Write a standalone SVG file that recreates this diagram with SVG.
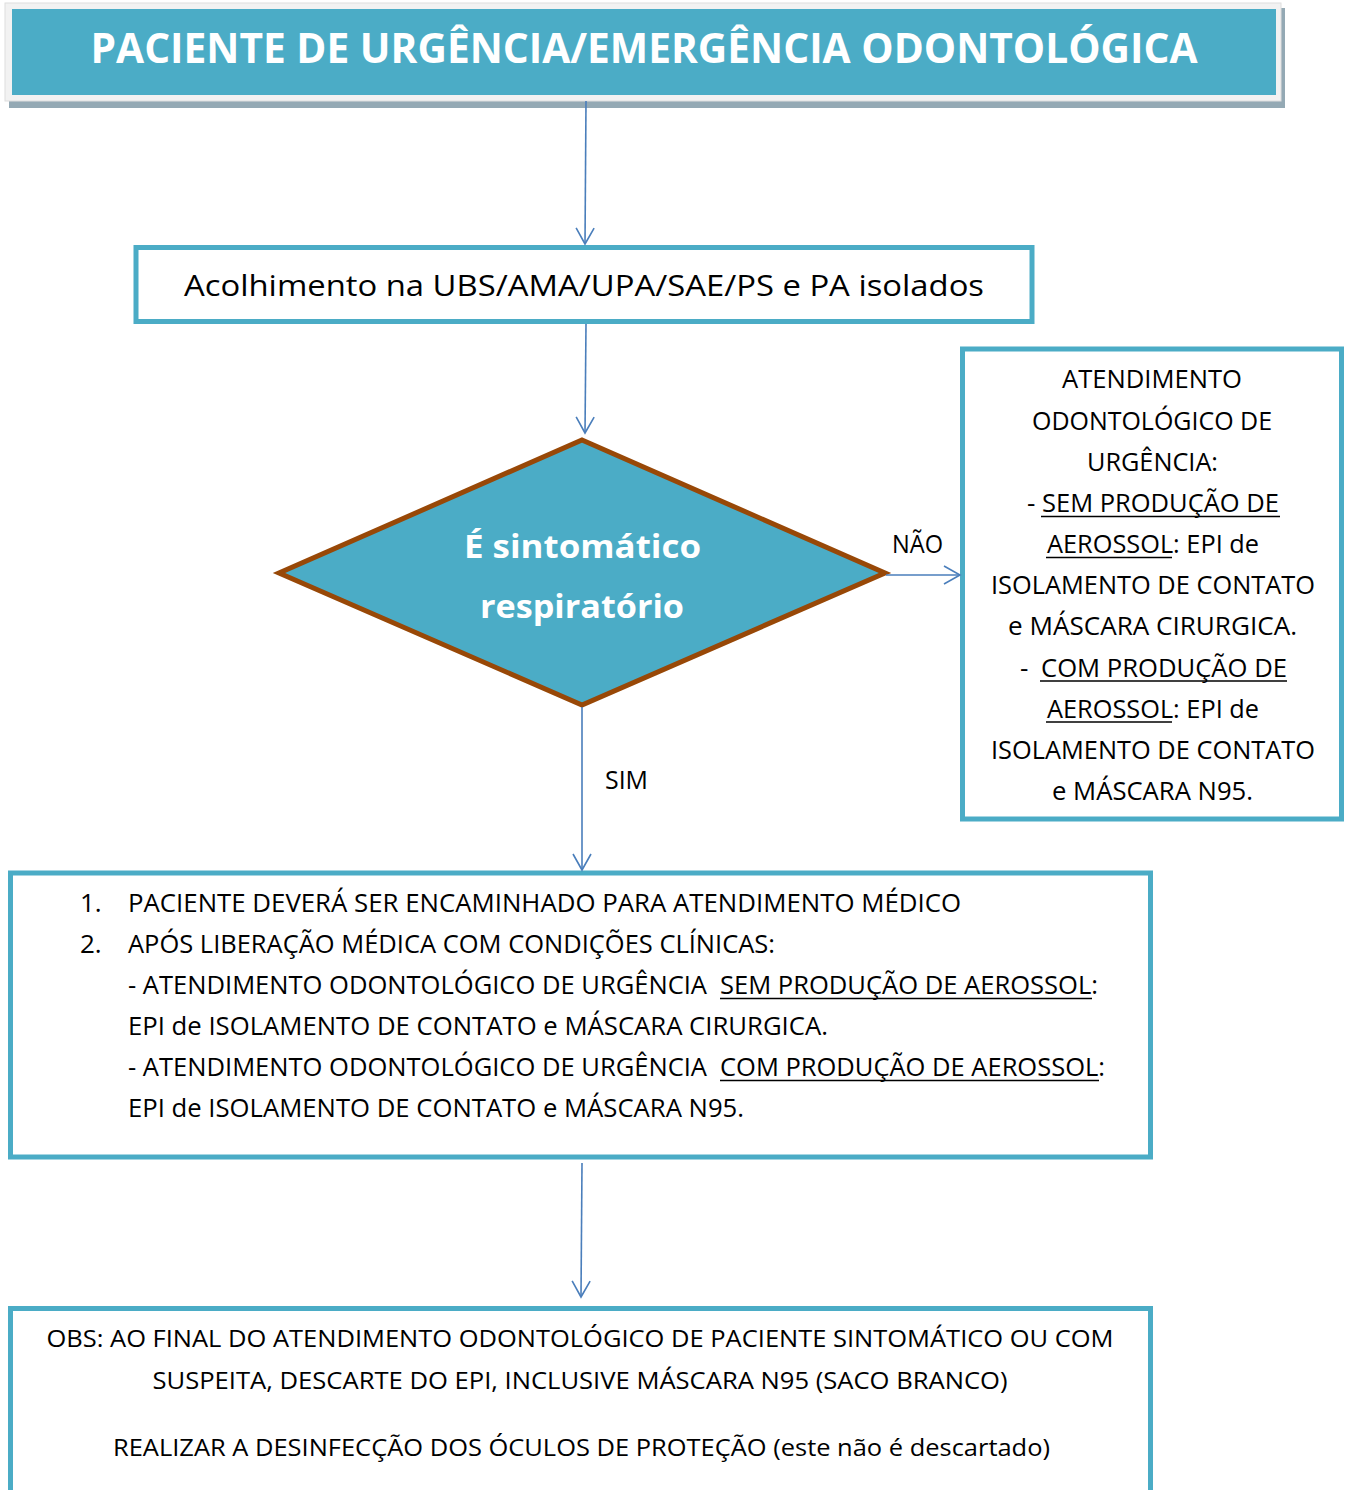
<svg xmlns="http://www.w3.org/2000/svg" width="1346" height="1490" viewBox="0 0 1346 1490">
<defs>
<style>
.t{font-family:"Open Sans","Noto Sans","DejaVu Sans",sans-serif;fill:#000;}
.b{font-size:26px;}
.s{font-size:24px;}
.box{fill:#fff;stroke:#4bacc6;stroke-width:5;}
.ul{stroke:#000;stroke-width:1.6;}
.c{fill:none;stroke:#4a7ebb;stroke-width:1.6;}
</style>
<marker id="arr" markerUnits="userSpaceOnUse" markerWidth="22" markerHeight="24" viewBox="-19 -12 22 24" refX="0" refY="0" orient="auto" overflow="visible">
<path d="M-16,-9 L0,0 L-16,9" fill="none" stroke="#4a7ebb" stroke-width="1.6"/>
</marker>
</defs>

<g id="title">
<rect x="9" y="8" width="1276" height="100" fill="#94a9b4"/>
<rect x="5" y="3" width="1276" height="98" fill="#f2f2f2" stroke="#dedede" stroke-width="1"/>
<rect x="12" y="9" width="1264" height="86" fill="#4bacc6"/>
<text class="t" x="644" y="63" text-anchor="middle" font-size="42" font-weight="bold" style="fill:#fff" textLength="1107" lengthAdjust="spacingAndGlyphs">PACIENTE DE URGÊNCIA/EMERGÊNCIA ODONTOLÓGICA</text>
</g>

<g id="acolhimento">
<rect class="box" x="136" y="247.5" width="896" height="74" stroke-width="4.5"/>
<text class="t" x="184" y="296" font-size="30" textLength="800" lengthAdjust="spacingAndGlyphs">Acolhimento na UBS/AMA/UPA/SAE/PS e PA isolados</text>
</g>

<g id="decisao">
<polygon points="582,440 885,573 582,705 279,573" fill="#4bacc6" stroke="#984807" stroke-width="5" stroke-linejoin="miter"/>
<text class="t" x="464" y="558" font-size="32" font-weight="bold" style="fill:#fff" textLength="237" lengthAdjust="spacingAndGlyphs">É sintomático</text>
<text class="t" x="480" y="618" font-size="32" font-weight="bold" style="fill:#fff" textLength="204" lengthAdjust="spacingAndGlyphs">respiratório</text>
</g>

<g id="nao-sintomatico">
<rect class="box" x="962.5" y="349" width="379" height="470"/>
<text class="t b" x="1062" y="388" textLength="180" lengthAdjust="spacingAndGlyphs">ATENDIMENTO</text>
<text class="t b" x="1032" y="429.5" textLength="240" lengthAdjust="spacingAndGlyphs">ODONTOLÓGICO DE</text>
<text class="t b" x="1087" y="470.5" textLength="131" lengthAdjust="spacingAndGlyphs">URGÊNCIA:</text>
<text class="t b" x="1027" y="512">-</text>
<text class="t b" x="1042" y="512" textLength="237" lengthAdjust="spacingAndGlyphs">SEM PRODUÇÃO DE</text>
<line class="ul" x1="1041" y1="516.5" x2="1280" y2="516.5"/>
<text class="t b" x="1047" y="553" textLength="212" lengthAdjust="spacingAndGlyphs">AEROSSOL: EPI de</text>
<line class="ul" x1="1046" y1="557.5" x2="1172" y2="557.5"/>
<text class="t b" x="991" y="594" textLength="324" lengthAdjust="spacingAndGlyphs">ISOLAMENTO DE CONTATO</text>
<text class="t b" x="1008" y="635" textLength="289" lengthAdjust="spacingAndGlyphs">e MÁSCARA CIRURGICA.</text>
<text class="t b" x="1020" y="676.5">-</text>
<text class="t b" x="1041" y="676.5" textLength="246" lengthAdjust="spacingAndGlyphs">COM PRODUÇÃO DE</text>
<line class="ul" x1="1040" y1="681" x2="1287" y2="681"/>
<text class="t b" x="1047" y="717.5" textLength="212" lengthAdjust="spacingAndGlyphs">AEROSSOL: EPI de</text>
<line class="ul" x1="1046" y1="722" x2="1172" y2="722"/>
<text class="t b" x="991" y="759" textLength="324" lengthAdjust="spacingAndGlyphs">ISOLAMENTO DE CONTATO</text>
<text class="t b" x="1052" y="800" textLength="201" lengthAdjust="spacingAndGlyphs">e MÁSCARA N95.</text>
</g>

<g id="sintomatico">
<rect class="box" x="10.5" y="873" width="1140" height="284"/>
<text class="t b" x="80" y="912">1.</text>
<text class="t b" x="128" y="912" textLength="833" lengthAdjust="spacingAndGlyphs">PACIENTE DEVERÁ SER ENCAMINHADO PARA ATENDIMENTO MÉDICO</text>
<text class="t b" x="80" y="953">2.</text>
<text class="t b" x="128" y="953" textLength="647" lengthAdjust="spacingAndGlyphs">APÓS LIBERAÇÃO MÉDICA COM CONDIÇÕES CLÍNICAS:</text>
<text class="t b" x="128" y="994" textLength="579" lengthAdjust="spacingAndGlyphs">- ATENDIMENTO ODONTOLÓGICO DE URGÊNCIA</text>
<text class="t b" x="720" y="994" textLength="378" lengthAdjust="spacingAndGlyphs">SEM PRODUÇÃO DE AEROSSOL:</text>
<line class="ul" x1="720" y1="998.5" x2="1092" y2="998.5"/>
<text class="t b" x="128" y="1035" textLength="700" lengthAdjust="spacingAndGlyphs">EPI de ISOLAMENTO DE CONTATO e MÁSCARA CIRURGICA.</text>
<text class="t b" x="128" y="1076" textLength="579" lengthAdjust="spacingAndGlyphs">- ATENDIMENTO ODONTOLÓGICO DE URGÊNCIA</text>
<text class="t b" x="720" y="1076" textLength="385" lengthAdjust="spacingAndGlyphs">COM PRODUÇÃO DE AEROSSOL:</text>
<line class="ul" x1="720" y1="1080.5" x2="1099" y2="1080.5"/>
<text class="t b" x="128" y="1117" textLength="616" lengthAdjust="spacingAndGlyphs">EPI de ISOLAMENTO DE CONTATO e MÁSCARA N95.</text>
</g>

<g id="obs">
<rect class="box" x="10.5" y="1308.5" width="1140" height="200"/>
<text class="t s" x="580" y="1347" text-anchor="middle" textLength="1067" lengthAdjust="spacingAndGlyphs">OBS: AO FINAL DO ATENDIMENTO ODONTOLÓGICO DE PACIENTE SINTOMÁTICO OU COM</text>
<text class="t s" x="580" y="1389" text-anchor="middle" textLength="855" lengthAdjust="spacingAndGlyphs">SUSPEITA, DESCARTE DO EPI, INCLUSIVE MÁSCARA N95 (SACO BRANCO)</text>
<text class="t s" x="581.5" y="1456" text-anchor="middle" textLength="937" lengthAdjust="spacingAndGlyphs">REALIZAR A DESINFECÇÃO DOS ÓCULOS DE PROTEÇÃO (este não é descartado)</text>
</g>

<g id="connectors">
<line class="c" x1="586" y1="101" x2="585" y2="244" marker-end="url(#arr)"/>
<line class="c" x1="586" y1="324" x2="585" y2="433" marker-end="url(#arr)"/>
<line class="c" x1="886" y1="575" x2="960" y2="575" marker-end="url(#arr)"/>
<line class="c" x1="582" y1="707" x2="582" y2="870" marker-end="url(#arr)"/>
<line class="c" x1="582" y1="1163" x2="581" y2="1297" marker-end="url(#arr)"/>
<text class="t" x="892" y="553" font-size="25" textLength="51" lengthAdjust="spacingAndGlyphs">NÃO</text>
<text class="t" x="605" y="789" font-size="25" textLength="43" lengthAdjust="spacingAndGlyphs">SIM</text>
</g>
</svg>
